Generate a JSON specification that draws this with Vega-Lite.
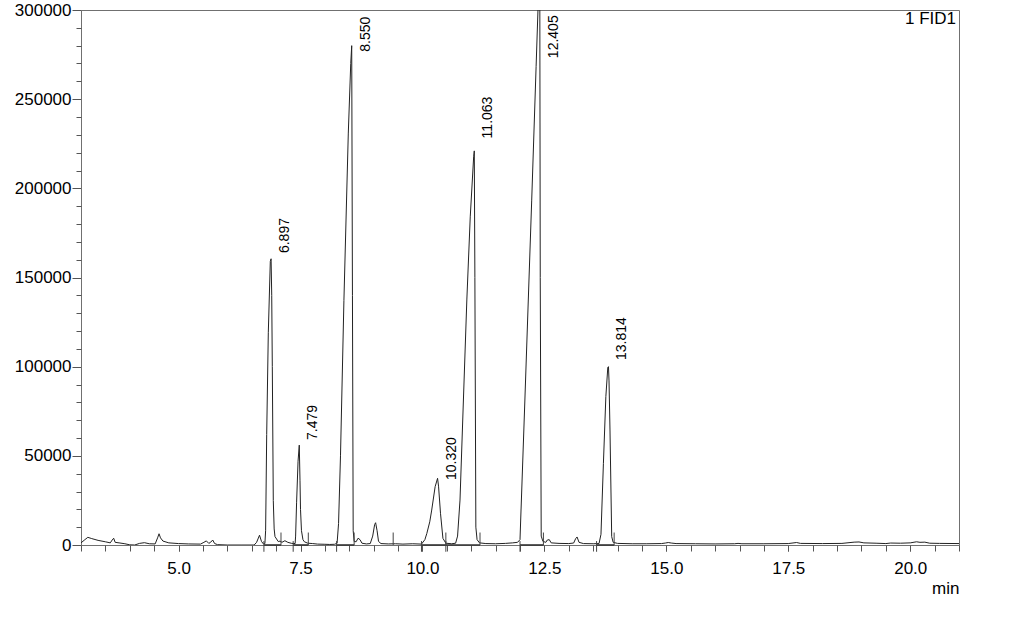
{
  "$schema": "https://vega.github.io/schema/vega-lite/v6.json",
  "width": 878,
  "height": 535,
  "autosize": {"type": "none"},
  "padding": {"left": 81, "top": 10, "right": 61, "bottom": 94},
  "background": "white",
  "title": {"text": "1 FID1", "anchor": "end", "frame": "group", "orient": "top", "fontSize": 17, "fontWeight": "normal", "font": "Liberation Sans", "color": "#000", "baseline": "alphabetic", "offset": 0, "dy": 40, "dx": -3},
  "config": {
    "view": {"stroke": "#707070", "strokeWidth": 1},
    "font": "Liberation Sans",
    "axis": {"grid": false, "labelFont": "Liberation Sans", "labelFontSize": 17, "labelColor": "#000", "domainColor": "#707070", "tickColor": "#555", "labelFlush": false}
  },
  "datasets": {
    "trace": [
      {"t": 3.00, "v": 1200}, {"t": 3.08, "v": 3000}, {"t": 3.14, "v": 4300}, {"t": 3.22, "v": 3600}, {"t": 3.35, "v": 2600},
      {"t": 3.50, "v": 1800}, {"t": 3.60, "v": 1200}, {"t": 3.64, "v": 2800}, {"t": 3.67, "v": 3800}, {"t": 3.70, "v": 1500},
      {"t": 3.78, "v": 1200}, {"t": 3.90, "v": 700}, {"t": 4.00, "v": 100}, {"t": 4.10, "v": 0}, {"t": 4.20, "v": 900},
      {"t": 4.30, "v": 1300}, {"t": 4.40, "v": 700}, {"t": 4.52, "v": 600}, {"t": 4.57, "v": 4000}, {"t": 4.60, "v": 6300},
      {"t": 4.63, "v": 4000}, {"t": 4.68, "v": 2200}, {"t": 4.80, "v": 1200}, {"t": 5.00, "v": 800}, {"t": 5.20, "v": 600},
      {"t": 5.45, "v": 500}, {"t": 5.52, "v": 1500}, {"t": 5.57, "v": 2300}, {"t": 5.62, "v": 900}, {"t": 5.66, "v": 1600},
      {"t": 5.70, "v": 2800}, {"t": 5.74, "v": 800}, {"t": 5.80, "v": 200}, {"t": 6.00, "v": 0}, {"t": 6.30, "v": 0},
      {"t": 6.55, "v": 0}, {"t": 6.60, "v": 1500}, {"t": 6.66, "v": 5500}, {"t": 6.70, "v": 2000}, {"t": 6.74, "v": 600},
      {"t": 6.77, "v": 800}, {"t": 6.785, "v": 8000}, {"t": 6.807, "v": 62000}, {"t": 6.840, "v": 119000}, {"t": 6.881, "v": 159000},
      {"t": 6.897, "v": 160500}, {"t": 6.910, "v": 140000}, {"t": 6.922, "v": 100000}, {"t": 6.942, "v": 25000}, {"t": 6.960, "v": 9000},
      {"t": 6.977, "v": 4700}, {"t": 7.045, "v": 1900}, {"t": 7.08, "v": 2200}, {"t": 7.12, "v": 1500}, {"t": 7.18, "v": 2400},
      {"t": 7.24, "v": 1500}, {"t": 7.32, "v": 900}, {"t": 7.39, "v": 800}, {"t": 7.40, "v": 5000}, {"t": 7.42, "v": 24000},
      {"t": 7.45, "v": 47000}, {"t": 7.475, "v": 56000}, {"t": 7.49, "v": 36000}, {"t": 7.50, "v": 20000}, {"t": 7.52, "v": 8000},
      {"t": 7.55, "v": 3000}, {"t": 7.58, "v": 1800}, {"t": 7.65, "v": 1000}, {"t": 7.75, "v": 800}, {"t": 7.85, "v": 500},
      {"t": 8.00, "v": 400}, {"t": 8.10, "v": 300}, {"t": 8.20, "v": 400}, {"t": 8.25, "v": 1000}, {"t": 8.28, "v": 12000},
      {"t": 8.32, "v": 50000}, {"t": 8.39, "v": 137000}, {"t": 8.48, "v": 231000}, {"t": 8.53, "v": 270000}, {"t": 8.55, "v": 280000},
      {"t": 8.565, "v": 140000}, {"t": 8.58, "v": 8000}, {"t": 8.60, "v": 2000}, {"t": 8.64, "v": 1800}, {"t": 8.68, "v": 3800},
      {"t": 8.72, "v": 3000}, {"t": 8.76, "v": 1000}, {"t": 8.85, "v": 600}, {"t": 8.93, "v": 800}, {"t": 8.98, "v": 5000},
      {"t": 9.02, "v": 11500}, {"t": 9.04, "v": 12500}, {"t": 9.07, "v": 8000}, {"t": 9.10, "v": 2000}, {"t": 9.15, "v": 800},
      {"t": 9.30, "v": 600}, {"t": 9.45, "v": 700}, {"t": 9.60, "v": 500}, {"t": 9.80, "v": 700}, {"t": 9.98, "v": 500},
      {"t": 10.05, "v": 3000}, {"t": 10.09, "v": 6500}, {"t": 10.15, "v": 13000}, {"t": 10.19, "v": 19600}, {"t": 10.26, "v": 32700},
      {"t": 10.31, "v": 37400}, {"t": 10.33, "v": 33000}, {"t": 10.37, "v": 17800}, {"t": 10.42, "v": 3700}, {"t": 10.48, "v": 1000},
      {"t": 10.60, "v": 700}, {"t": 10.68, "v": 1000}, {"t": 10.72, "v": 5000}, {"t": 10.77, "v": 25200}, {"t": 10.84, "v": 81300},
      {"t": 10.91, "v": 137400}, {"t": 10.98, "v": 184000}, {"t": 11.05, "v": 217700}, {"t": 11.063, "v": 221000}, {"t": 11.075, "v": 150000},
      {"t": 11.095, "v": 10000}, {"t": 11.12, "v": 3000}, {"t": 11.17, "v": 1200}, {"t": 11.30, "v": 800}, {"t": 11.50, "v": 700},
      {"t": 11.70, "v": 900}, {"t": 11.85, "v": 1200}, {"t": 11.95, "v": 1500}, {"t": 12.00, "v": 3000}, {"t": 12.10, "v": 81300},
      {"t": 12.24, "v": 193400}, {"t": 12.33, "v": 268200}, {"t": 12.405, "v": 330000}, {"t": 12.415, "v": 150000}, {"t": 12.435, "v": 5000},
      {"t": 12.47, "v": 2000}, {"t": 12.53, "v": 1500}, {"t": 12.56, "v": 2800}, {"t": 12.60, "v": 3000}, {"t": 12.64, "v": 1200},
      {"t": 12.80, "v": 900}, {"t": 13.00, "v": 800}, {"t": 13.10, "v": 1100}, {"t": 13.14, "v": 3500}, {"t": 13.17, "v": 4500},
      {"t": 13.21, "v": 1500}, {"t": 13.30, "v": 800}, {"t": 13.50, "v": 700}, {"t": 13.62, "v": 800}, {"t": 13.66, "v": 6000},
      {"t": 13.71, "v": 45800}, {"t": 13.76, "v": 83200}, {"t": 13.80, "v": 99600}, {"t": 13.814, "v": 100000}, {"t": 13.825, "v": 92000},
      {"t": 13.845, "v": 64500}, {"t": 13.88, "v": 4700}, {"t": 13.91, "v": 1500}, {"t": 14.00, "v": 900}, {"t": 14.30, "v": 700},
      {"t": 14.60, "v": 700}, {"t": 14.90, "v": 800}, {"t": 14.98, "v": 1100}, {"t": 15.04, "v": 1400}, {"t": 15.10, "v": 1100},
      {"t": 15.20, "v": 800}, {"t": 15.60, "v": 700}, {"t": 16.00, "v": 600}, {"t": 16.40, "v": 700}, {"t": 16.47, "v": 900},
      {"t": 16.55, "v": 700}, {"t": 17.00, "v": 700}, {"t": 17.50, "v": 800}, {"t": 17.67, "v": 1400}, {"t": 17.75, "v": 900},
      {"t": 18.20, "v": 800}, {"t": 18.60, "v": 900}, {"t": 18.85, "v": 1600}, {"t": 18.95, "v": 1700}, {"t": 19.05, "v": 1200},
      {"t": 19.30, "v": 1000}, {"t": 19.50, "v": 800}, {"t": 19.60, "v": 1100}, {"t": 19.80, "v": 1000}, {"t": 20.00, "v": 1200},
      {"t": 20.13, "v": 1800}, {"t": 20.20, "v": 1500}, {"t": 20.30, "v": 1600}, {"t": 20.40, "v": 1000}, {"t": 20.60, "v": 900},
      {"t": 21.00, "v": 800}
    ],
    "peaks": [
      {"rt": 6.897, "labelY": 163700, "label": "6.897"},
      {"rt": 7.479, "labelY": 58900, "label": "7.479"},
      {"rt": 8.550, "labelY": 276600, "label": "8.550"},
      {"rt": 10.320, "labelY": 36400, "label": "10.320"},
      {"rt": 11.063, "labelY": 228000, "label": "11.063"},
      {"rt": 12.405, "labelY": 273000, "label": "12.405"},
      {"rt": 13.814, "labelY": 103700, "label": "13.814"}
    ],
    "starts": [{"t": 6.75}, {"t": 7.35}, {"t": 8.24}, {"t": 9.98}, {"t": 10.48}, {"t": 12.0}, {"t": 13.57}],
    "ends": [{"t": 7.10}, {"t": 7.66}, {"t": 8.60}, {"t": 9.40}, {"t": 10.48}, {"t": 11.18}, {"t": 12.48}, {"t": 13.93}],
    "baselines": [
      {"t0": 6.75, "t1": 7.10}, {"t0": 7.35, "t1": 7.66}, {"t0": 8.24, "t1": 8.60}, {"t0": 9.98, "t1": 10.48},
      {"t0": 10.48, "t1": 11.18}, {"t0": 12.0, "t1": 12.48}, {"t0": 13.57, "t1": 13.93}
    ]
  },
  "layer": [
    {
      "data": {"name": "baselines"},
      "mark": {"type": "rule", "color": "#333", "strokeWidth": 1.6},
      "encoding": {
        "x": {"field": "t0", "type": "quantitative", "scale": {"domain": [3, 21], "nice": false, "zero": false}, "axis": null},
        "x2": {"field": "t1"},
        "y": {"datum": 0, "type": "quantitative", "scale": {"domain": [0, 300000], "nice": false}, "axis": null}
      }
    },
    {
      "data": {"name": "trace"},
      "mark": {"type": "line", "clip": true, "color": "#222", "strokeWidth": 1},
      "encoding": {
        "x": {"field": "t", "type": "quantitative", "scale": {"domain": [3, 21], "nice": false, "zero": false},
          "axis": {"orient": "bottom", "values": [5, 7.5, 10, 12.5, 15, 17.5, 20], "format": ".1f", "tickSize": 6, "labelPadding": 9,
            "title": "min", "titleFontSize": 17, "titleFontWeight": "normal", "titleFont": "Liberation Sans", "titleColor": "#000",
            "titleAnchor": "end", "titleAlign": "right", "titleBaseline": "alphabetic", "titleX": 878, "titleY": 48}},
        "y": {"field": "v", "type": "quantitative", "scale": {"domain": [0, 300000], "nice": false},
          "axis": {"orient": "left", "values": [0, 50000, 100000, 150000, 200000, 250000, 300000], "format": "d", "tickSize": 9, "labelPadding": 1, "title": null}}
      }
    },
    {
      "data": {"name": "starts"},
      "mark": {"type": "rule", "color": "#444", "strokeWidth": 1},
      "encoding": {
        "x": {"field": "t", "type": "quantitative", "scale": {"domain": [3, 21], "nice": false, "zero": false}, "axis": null},
        "y": {"datum": -3800, "type": "quantitative", "scale": {"domain": [0, 300000], "nice": false}, "axis": null},
        "y2": {"datum": 2200}
      }
    },
    {
      "data": {"name": "ends"},
      "mark": {"type": "rule", "color": "#444", "strokeWidth": 1},
      "encoding": {
        "x": {"field": "t", "type": "quantitative", "scale": {"domain": [3, 21], "nice": false, "zero": false}, "axis": null},
        "y": {"datum": 0, "type": "quantitative", "scale": {"domain": [0, 300000], "nice": false}, "axis": null},
        "y2": {"datum": 7000}
      }
    },
    {
      "data": {"name": "peaks"},
      "mark": {"type": "text", "angle": 270, "align": "left", "baseline": "middle", "dy": 14, "fontSize": 14, "font": "Liberation Sans", "color": "#000"},
      "encoding": {
        "x": {"field": "rt", "type": "quantitative", "scale": {"domain": [3, 21], "nice": false, "zero": false},
          "axis": {"orient": "bottom", "values": [3, 3.5, 4, 4.5, 5, 5.5, 6, 6.5, 7, 7.5, 8, 8.5, 9, 9.5, 10, 10.5, 11, 11.5, 12, 12.5, 13, 13.5, 14, 14.5, 15, 15.5, 16, 16.5, 17, 17.5, 18, 18.5, 19, 19.5, 20, 20.5, 21],
            "labels": false, "domain": false, "tickSize": 6, "title": null}},
        "y": {"field": "labelY", "type": "quantitative", "scale": {"domain": [0, 300000], "nice": false},
          "axis": {"orient": "left", "values": [10000, 20000, 30000, 40000, 60000, 70000, 80000, 90000, 110000, 120000, 130000, 140000, 160000, 170000, 180000, 190000, 210000, 220000, 230000, 240000, 260000, 270000, 280000, 290000],
            "labels": false, "domain": false, "tickSize": 5, "title": null}},
        "text": {"field": "label", "type": "nominal"}
      }
    }
  ],
  "resolve": {"axis": {"x": "independent", "y": "independent"}}
}
